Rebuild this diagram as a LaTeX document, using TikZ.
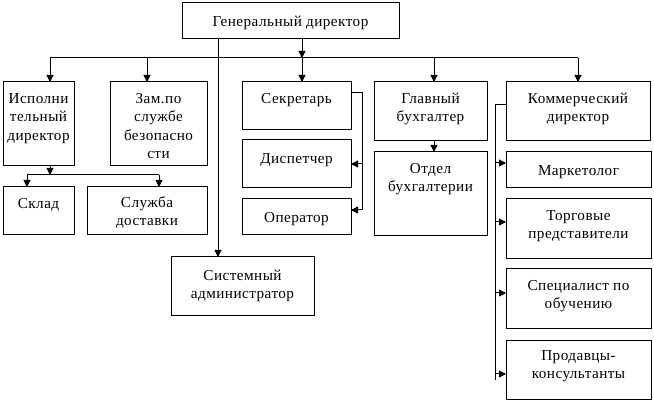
\documentclass[tikz,border=0pt]{standalone}
\usepackage{fontspec}
\setmainfont[LetterSpace=3]{Liberation Serif}
\usetikzlibrary{arrows.meta,fit,calc}
\newcommand\obox[7]{%
  \node[box,fit={(#2,#3) (#4,#5)}] (#1) {};
  \node[txt] (#1t) at ($(#1.north)+(0,#6-11.5)$) {\rule{0pt}{11.5pt}#7};
}
\begin{document}
\begin{tikzpicture}[x=1pt,y=-1pt,
  box/.style={draw,line width=1pt,inner sep=0pt,outer sep=0pt},
  txt/.style={font=\fontsize{15.2}{18.5}\selectfont,align=center,inner sep=0pt,anchor=north},
  arr/.style={line width=1pt,-{Triangle[length=7pt,width=7pt]}},
  ln/.style={line width=1pt}]
\useasboundingbox[fill=white] (0,0) rectangle (654,403);
\obox{gen}{182}{3}{399}{39}{23}{Генеральный директор}
\obox{isp}{3}{82}{74}{166}{21}{Исполни\\тельный\\директор}
\obox{zam}{110}{82}{207}{166}{21}{Зам.по\\службе\\безопасно\\сти}
\obox{sec}{242}{82}{351}{130}{21}{Секретарь}
\obox{disp}{242}{140}{351}{188}{23}{Диспетчер}
\obox{oper}{242}{199}{351}{235}{23}{Оператор}
\obox{glb}{374}{82}{487}{141}{21}{Главный\\бухгалтер}
\obox{otd}{374}{152}{487}{236}{21}{Отдел\\бухгалтерии}
\obox{kom}{506}{82}{650}{141}{21}{Коммерческий\\директор}
\obox{sklad}{3}{187}{74}{235}{21}{Склад}
\obox{dost}{87}{187}{207}{235}{20}{Служба\\доставки}
\obox{sys}{171}{257}{314}{316}{23}{Системный\\администратор}
\obox{mark}{506}{152}{651}{188}{23}{Маркетолог}
\obox{torg}{506}{199}{651}{259}{21}{Торговые\\представители}
\obox{spec}{506}{269}{651}{329}{21}{Специалист по\\обучению}
\obox{prod}{506}{341}{651}{400}{19}{Продавцы-\\консультанты}
% top bus
\coordinate (b1) at (50,58);
\coordinate (b2) at (147,58);
\coordinate (b3) at (302,58);
\coordinate (b4) at (434,58);
\coordinate (b5) at (578,58);
\draw[ln] (b1) -- (b5);
\draw[arr] (gen.south -| b3) -- (b3);
\draw[arr] (b1) -- (b1 |- isp.north);
\draw[arr] (b2) -- (b2 |- zam.north);
\draw[arr] (b3) -- (b3 |- sec.north);
\draw[arr] (b4) -- (b4 |- glb.north);
\draw[arr] (b5) -- (b5 |- kom.north);
% system administrator
\coordinate (sx) at (218,250);
\draw[arr] (gen.south -| sx) -- (sx |- sys.north);
% executive director branch
\coordinate (j) at (50,175);
\coordinate (j1) at (27,175);
\coordinate (j2) at (159,175);
\draw[arr] (isp.south -| j) -- (j);
\draw[ln] (j1) -- (j2);
\draw[arr] (j1) -- (j1 |- sklad.north);
\draw[arr] (j2) -- (j2 |- dost.north);
% secretary branch
\coordinate (r1) at (362,93);
\coordinate (r2) at (362,164);
\coordinate (r3) at (362,210);
\draw[ln] (sec.east |- r1) -- (r1) -- (r3);
\draw[arr] (r2) -- (r2 -| disp.east);
\draw[arr] (r3) -- (r3 -| oper.east);
% accountant
\draw[arr] (glb.south -| b4) -- (b4 |- otd.north);
% commercial branch
\coordinate (l1) at (495,105);
\coordinate (l2) at (495,163);
\coordinate (l3) at (495,222);
\coordinate (l4) at (495,293);
\coordinate (l5) at (495,374);
\coordinate (l6) at (495,380);
\draw[ln] (kom.west |- l1) -- (l1) -- (l6);
\draw[arr] (l2) -- (l2 -| mark.west);
\draw[arr] (l3) -- (l3 -| torg.west);
\draw[arr] (l4) -- (l4 -| spec.west);
\draw[arr] (l5) -- (l5 -| prod.west);
\end{tikzpicture}
\end{document}
